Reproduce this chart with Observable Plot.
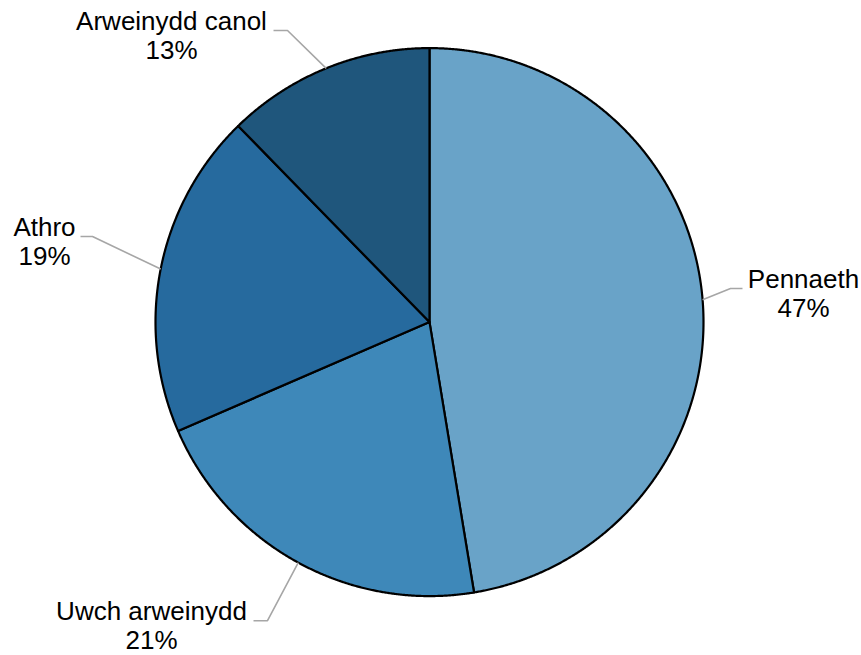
<!DOCTYPE html>
<html>
<head>
<meta charset="utf-8">
<script src="https://cdn.jsdelivr.net/npm/d3@7"></script>
<script src="https://cdn.jsdelivr.net/npm/@observablehq/plot@0.6"></script>
<style>
  html, body { margin: 0; padding: 0; background: #ffffff; }
  #chart svg { display: block; overflow: visible; }
</style>
</head>
<body>
<div id="chart"></div>
<script>
// ---- Data (clockwise from 12 o'clock) ----
const categories = ["Pennaeth", "Uwch arweinydd", "Athro", "Arweinydd canol"];
const shares = [47.4, 21.1, 19.2, 12.3];
const percentLabels = ["47%", "21%", "19%", "13%"];
const colors = ["#69a3c8", "#3e88b9", "#266a9e", "#1f567c"];

// ---- Label layout (in units of the pie radius, centre = 0,0) ----
const labelTextX = [1.365, -1.0146, -1.4051, -0.9416];
const labelLeaderY = [0.1226, -1.0898, 0.3124, 1.0642];
const labelEndX = [1.1423, -0.6423, -1.2737, -0.5693];
const labelElbowX = [1.0985, -0.5912, -1.2299, -0.5182];

const pieArcs = d3.pie().sort(null).value(d => d)(shares);

const slicePoints = [];
const leaderPoints = [];
const labelRows = [];
pieArcs.forEach((a, i) => {
  const cat = categories[i];
  const n = Math.max(2, Math.ceil((a.endAngle - a.startAngle) / 0.004));
  slicePoints.push({cat, x: 0, y: 0});
  for (let k = 0; k <= n; k++) {
    const t = a.startAngle + (a.endAngle - a.startAngle) * k / n;
    slicePoints.push({cat, x: Math.sin(t), y: Math.cos(t)});
  }
  slicePoints.push({cat, x: 0, y: 0});

  const mid = (a.startAngle + a.endAngle) / 2;
  leaderPoints.push({cat, x: Math.sin(mid), y: Math.cos(mid)});
  leaderPoints.push({cat, x: labelElbowX[i], y: labelLeaderY[i]});
  leaderPoints.push({cat, x: labelEndX[i], y: labelLeaderY[i]});

  labelRows.push({cat, x: labelTextX[i], y: labelLeaderY[i], text: cat + "\n" + percentLabels[i]});
});

const W = 861, H = 655, R = 274, CX = 429, CY = 321.6;

const chart = Plot.plot({
  width: W,
  height: H,
  margin: 0,
  x: {domain: [-CX / R, (W - CX) / R], axis: null},
  y: {domain: [-(H - CY) / R, CY / R], axis: null},
  color: {domain: categories, range: colors},
  style: {fontFamily: "'Liberation Sans', Arial, sans-serif", fontSize: "26px", background: "#ffffff", color: "#000"},
  marks: [
    Plot.line(slicePoints, {x: "x", y: "y", z: "cat", fill: "cat", stroke: "#000000", strokeWidth: 2.2, curve: "linear"}),
    Plot.line(leaderPoints, {x: "x", y: "y", z: "cat", stroke: "#a6a6a6", strokeWidth: 1.6, strokeLinecap: "butt"}),
    Plot.text(labelRows, {x: "x", y: "y", text: "text", lineAnchor: "bottom", lineHeight: 1.1, dy: 28, fontSize: 26, fill: "#000000", textAnchor: "middle"})
  ]
});

document.getElementById("chart").appendChild(chart);
</script>
</body>
</html>
